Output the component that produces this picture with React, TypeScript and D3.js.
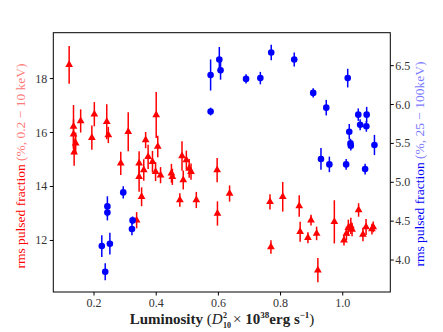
import React from 'react'
import * as d3 from 'd3'

// soft X-ray pulsed fraction (left axis)
const softLum = [0.120, 0.134, 0.134, 0.141, 0.136, 0.157, 0.201, 0.193, 0.241, 0.246, 0.286, 0.310, 0.337, 0.345, 0.345, 0.353, 0.360, 0.366, 0.374, 0.388, 0.398, 0.400, 0.405, 0.414, 0.449, 0.452, 0.476, 0.483, 0.487, 0.497, 0.506, 0.512, 0.529, 0.596, 0.597, 0.636, 0.766, 0.769, 0.807, 0.860, 0.863, 0.888, 0.898, 0.916, 0.920, 0.973, 1.004, 1.012, 1.018, 1.026, 1.030, 1.051, 1.065, 1.075, 1.094, 1.098]
const softPF = [18.51, 16.22, 15.94, 15.60, 15.27, 16.43, 16.68, 15.81, 16.40, 15.91, 14.86, 16.03, 12.75, 14.86, 14.36, 13.62, 14.61, 15.72, 15.10, 14.92, 14.55, 16.65, 15.48, 14.42, 14.49, 14.36, 13.50, 15.13, 14.24, 14.98, 14.67, 14.55, 13.50, 14.61, 13.00, 13.74, 13.43, 11.76, 13.62, 13.28, 12.32, 12.10, 12.75, 12.26, 10.90, 12.69, 12.01, 12.26, 12.47, 12.54, 12.41, 13.13, 12.22, 12.50, 12.42, 12.50]
const softErr = [0.70, 0.80, 0.55, 0.40, 0.50, 0.43, 0.45, 0.45, 0.65, 0.30, 0.43, 0.72, 0.30, 0.45, 0.55, 0.35, 0.40, 0.30, 0.45, 0.40, 0.35, 0.85, 0.40, 0.30, 0.35, 0.30, 0.25, 0.55, 0.35, 0.35, 0.35, 0.30, 0.30, 0.45, 0.45, 0.30, 0.28, 0.25, 0.55, 0.40, 0.37, 0.20, 0.20, 0.25, 0.45, 0.80, 0.20, 0.25, 0.30, 0.30, 0.25, 0.25, 0.25, 0.30, 0.20, 0.20]

// hard X-ray pulsed fraction (right axis)
const hardLum = [0.225, 0.236, 0.243, 0.243, 0.251, 0.294, 0.322, 0.324, 0.575, 0.575, 0.603, 0.607, 0.689, 0.735, 0.770, 0.844, 0.905, 0.947, 0.930, 0.957, 1.011, 1.016, 1.021, 1.025, 1.026, 1.050, 1.056, 1.072, 1.076, 1.077, 1.102]
const hardPF = [4.18, 3.85, 4.69, 4.61, 4.21, 4.87, 4.40, 4.51, 5.91, 6.38, 6.58, 6.44, 6.33, 6.34, 6.67, 6.58, 6.15, 5.96, 5.30, 5.23, 5.23, 6.34, 5.65, 5.50, 5.47, 5.87, 5.74, 5.17, 5.72, 5.87, 5.48]
const hardErr = [0.14, 0.11, 0.13, 0.10, 0.14, 0.08, 0.08, 0.05, 0.05, 0.20, 0.16, 0.12, 0.06, 0.08, 0.10, 0.09, 0.06, 0.10, 0.14, 0.10, 0.07, 0.12, 0.10, 0.06, 0.06, 0.08, 0.07, 0.07, 0.07, 0.10, 0.13]

const xTicks = [0.2, 0.4, 0.6, 0.8, 1.0]
const leftTicks = [12, 14, 16, 18]
const rightTicks = [4.0, 4.5, 5.0, 5.5, 6.0, 6.5]

const W = 443
const H = 332
const left = 53.3
const right = 390.3
const top = 32.7
const bottom = 292
const font = '"Liberation Serif", "DejaVu Serif", serif'

export default function App() {
  const x = d3.scaleLinear().domain([0.069, 1.153]).range([left, right])
  const yL = d3.scaleLinear().domain([10.09, 19.7]).range([bottom, top])
  const yR = d3.scaleLinear().domain([3.589, 6.924]).range([bottom, top])
  const tri = d3.symbol(d3.symbolTriangle).size(26)()

  return (
    <svg width={W} height={H} style={{ position: 'absolute', left: 0, top: 0, background: '#fff' }}>
      {/* error bars + markers, soft band */}
      <g stroke="#ff0000" strokeWidth={1.5} fill="#ff0000">
        {softLum.map((l, i) => (
          <g key={i}>
            <line x1={x(l)} x2={x(l)} y1={yL(softPF[i] - softErr[i])} y2={yL(softPF[i] + softErr[i])} />
            <path d={tri} transform={`translate(${x(l)},${yL(softPF[i])})`} stroke="none" />
          </g>
        ))}
      </g>
      <g stroke="#0000ff" strokeWidth={1.5} fill="#0000ff">
        {hardLum.map((l, i) => (
          <g key={i}>
            <line x1={x(l)} x2={x(l)} y1={yR(hardPF[i] - hardErr[i])} y2={yR(hardPF[i] + hardErr[i])} />
            <circle cx={x(l)} cy={yR(hardPF[i])} r={3.3} stroke="none" />
          </g>
        ))}
      </g>

      {/* frame */}
      <rect x={left} y={top} width={right - left} height={bottom - top} fill="none" stroke="#000" strokeWidth={1} />

      {/* x axis */}
      {xTicks.map(t => (
        <g key={t} transform={`translate(${x(t)},${bottom})`}>
          <line y2={3.5} stroke="#000" />
          <text y={14.5} textAnchor="middle" fontFamily={font} fontSize={12} fill="#333">{t.toFixed(1)}</text>
        </g>
      ))}
      {leftTicks.map(t => (
        <g key={t} transform={`translate(${left},${yL(t)})`}>
          <line x2={-3.5} stroke="#000" />
          <text x={-6} dy="0.33em" textAnchor="end" fontFamily={font} fontSize={12} fill="#333">{t}</text>
        </g>
      ))}
      {rightTicks.map(t => (
        <g key={t} transform={`translate(${right},${yR(t)})`}>
          <line x2={3.5} stroke="#000" />
          <text x={5} dy="0.33em" textAnchor="start" fontFamily={font} fontSize={12} fill="#333">{t.toFixed(1)}</text>
        </g>
      ))}

      {/* axis titles */}
      <text x={222} y={324} textAnchor="middle" fontFamily={font} fontSize={15} fill="#222">
        <tspan fontWeight="bold">Luminosity </tspan>
        <tspan>(</tspan>
        <tspan fontStyle="italic">D</tspan>
        <tspan fontWeight="bold" fontSize={8} dy={-6.5} dx={0.5}>2</tspan>
        <tspan fontWeight="bold" fontSize={8} dy={10} dx={-4}>10</tspan>
        <tspan dy={-3.5} dx={2}>× </tspan>
        <tspan fontWeight="bold">10</tspan>
        <tspan fontWeight="bold" fontSize={9} dy={-6}>38</tspan>
        <tspan fontWeight="bold" dy={6}>erg s</tspan>
        <tspan fontWeight="bold" fontSize={9} dy={-6}>−1</tspan>
        <tspan dy={6}>)</tspan>
      </text>
      <text transform={`translate(25,166) rotate(-90)`} textAnchor="middle" fontFamily={font} fontSize={13.5}>
        <tspan fill="#ff0000">rms pulsed fraction </tspan>
        <tspan fill="#ff7a7a">(%, 0.2 − 10 keV)</tspan>
      </text>
      <text transform={`translate(424,164) rotate(-90)`} textAnchor="middle" fontFamily={font} fontSize={13.5}>
        <tspan fill="#0000ff">rms pulsed fraction </tspan>
        <tspan fill="#7a7aff">(%, 25 − 100keV)</tspan>
      </text>
    </svg>
  )
}
